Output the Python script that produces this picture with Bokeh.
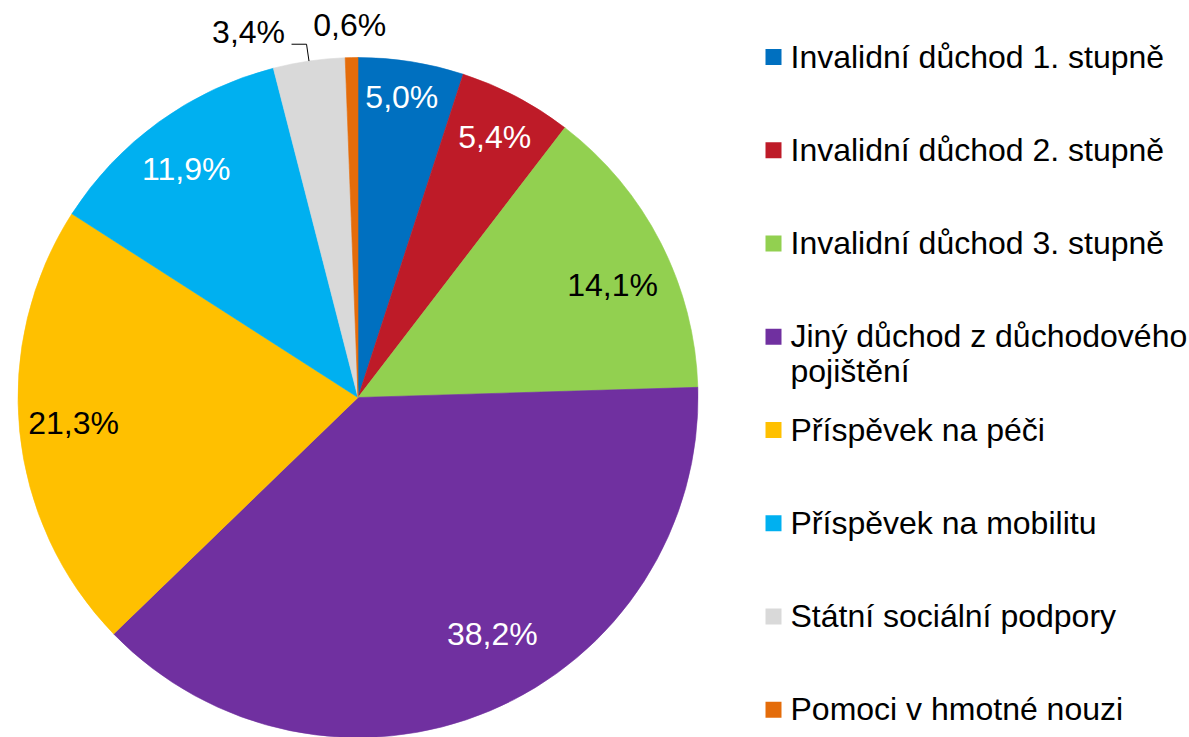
import math
from bokeh.plotting import figure
from bokeh.models import Range1d, ColumnDataSource
from bokeh.core.properties import value
from bokeh.embed import file_html
from bokeh.resources import INLINE

# ---- data ----
categories = [
    "Invalidní důchod 1. stupně",
    "Invalidní důchod 2. stupně",
    "Invalidní důchod 3. stupně",
    "Jiný důchod z důchodového\npojištění",
    "Příspěvek na péči",
    "Příspěvek na mobilitu",
    "Státní sociální podpory",
    "Pomoci v hmotné nouzi",
]
shares = [5.0, 5.4, 14.1, 38.2, 21.3, 11.9, 3.4, 0.6]
share_labels = ["5,0%", "5,4%", "14,1%", "38,2%", "21,3%", "11,9%", "3,4%", "0,6%"]
colors = ["#0070C0", "#BE1B28", "#92D050", "#7030A0", "#FFC000", "#00B0F0", "#D9D9D9", "#E46C0A"]
label_colors = ["white", "white", "black", "white", "black", "white", "black", "black"]
label_radius = [0.892, 0.864, 0.818, 0.800, 0.840, 0.840, 1.121, 1.094]
label_nudge_deg = [-0.7, 0.0, 3.4, -6.7, 0.4, -1.1, -8.4, -0.2]
leader = [False, False, False, False, False, False, True, False]

# ---- layout (pixel-like data units) ----
W, H = 1189, 737
FONT = value("Liberation Sans")
FS = "32px"
CX, CY, R = 357.5, 340.0, 340.0
TEXT_SHIFT = 0.5  # vertical correction for rendered text position

p = figure(width=W, height=H, output_backend="svg", toolbar_location=None,
           x_range=Range1d(0, W), y_range=Range1d(0, H),
           x_axis_location=None, y_axis_location=None,
           min_border=0, min_border_left=0, min_border_right=0,
           min_border_top=0, min_border_bottom=0)
p.grid.visible = False
p.outline_line_color = None
p.background_fill_color = "white"
p.border_fill_color = "white"

total = sum(shares)
starts, ends, mids = [], [], []
cum = 0.0
for s in shares:
    starts.append(math.pi / 2 - 2 * math.pi * cum / total)
    mids.append(360.0 * (cum + s / 2) / total)
    cum += s
    ends.append(math.pi / 2 - 2 * math.pi * cum / total)

src = ColumnDataSource(dict(start=starts, end=ends, color=colors))
p.wedge(x=CX, y=CY, radius=R, start_angle="start", end_angle="end",
        direction="clock", fill_color="color", line_color="color",
        line_width=0.6, source=src)

# data labels
lx, ly, lt, lc = [], [], [], []
for i, lab in enumerate(share_labels):
    th = math.radians(mids[i] + label_nudge_deg[i])
    rr = label_radius[i] * R
    lx.append(CX + rr * math.sin(th))
    ly.append(CY + rr * math.cos(th) + TEXT_SHIFT)
    lt.append(lab)
    lc.append(label_colors[i])
    if leader[i]:
        thm = math.radians(mids[i])
        ex, ey = CX + R * math.sin(thm), CY + R * math.cos(thm)
        bx, by = CX + 1.05 * R * math.sin(thm), CY + 1.05 * R * math.cos(thm)
        p.line(x=[ex, bx, bx - 15], y=[ey, by, by], line_color="black", line_width=1)
p.text(x=lx, y=ly, text=lt, text_color=lc, text_font=FONT, text_font_size=FS,
       text_align="center", text_baseline="alphabetic")

# legend
tx, ty, tt = [], [], []
mx, my = [], []
for i, cat in enumerate(categories):
    center_screen = 56.5 + 93.25 * i
    c = H - center_screen
    mx.append(773)
    my.append(c)
    for j, line in enumerate(cat.split("\n")):
        tx.append(790)
        ty.append(c + TEXT_SHIFT - 35 * j)
        tt.append(line)
p.rect(x=mx, y=my, width=16, height=16, fill_color=colors, line_color=None)
p.text(x=tx, y=ty, text=tt, text_color="black", text_font=FONT, text_font_size=FS,
       text_align="left", text_baseline="alphabetic")

open("out.html", "w").write(file_html(p, INLINE))
